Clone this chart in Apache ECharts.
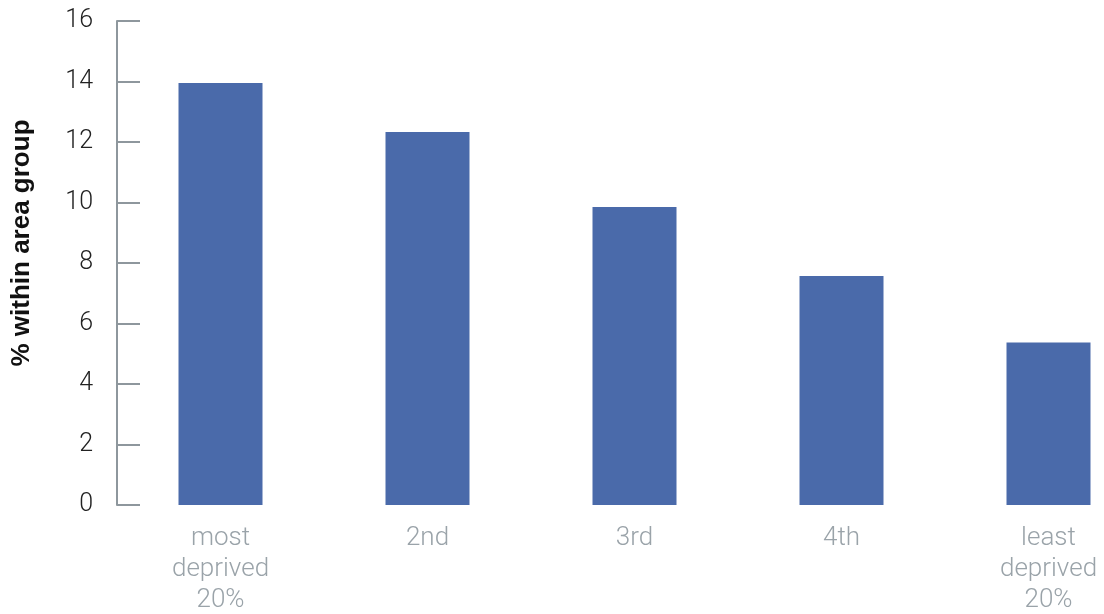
<!DOCTYPE html>
<html><head><meta charset="utf-8">
<script src="https://cdn.jsdelivr.net/npm/echarts@6/dist/echarts.min.js"></script>
<style>html,body{margin:0;padding:0;background:#fff}#c{width:1104px;height:614px}</style>
</head><body><div id="c"></div>
<script>
const categories = ['most\ndeprived\n20%', '2nd', '3rd', '4th', 'least\ndeprived\n20%'];
const values = [13.95, 12.33, 9.85, 7.57, 5.37];
const yTitle = '% within area group';

const chart = echarts.init(document.getElementById('c'));
chart.setOption({
  animation: false,
  grid: { left: 117, right: -48, top: 21, bottom: 109, outerBoundsMode: 'none', containLabel: false },
  graphic: [{
    type: 'text', x: 22, y: 243, rotation: Math.PI / 2,
    style: { text: yTitle, fontFamily: 'Liberation Sans', fontWeight: 'bold', fontSize: 26, fill: '#111',
             align: 'center', verticalAlign: 'middle' }
  }],
  xAxis: {
    type: 'category', data: categories,
    axisLine: { show: false }, axisTick: { show: false },
    axisLabel: { color: '#9aa3a9', fontFamily: 'Roboto', fontWeight: 300, fontSize: 26, lineHeight: 31, margin: 18 }
  },
  yAxis: {
    type: 'value', min: 0, max: 16, interval: 2,
    axisLine: { show: true, lineStyle: { color: '#8e979d', width: 2 } },
    axisTick: { show: true, inside: true, length: 23, lineStyle: { color: '#8e979d', width: 2 } },
    splitLine: { show: false },
    axisLabel: { color: '#222', fontFamily: 'Roboto', fontWeight: 300, fontSize: 25, margin: 24 }
  },
  series: [{
    type: 'bar', data: values, barWidth: 84,
    itemStyle: { color: '#4a6aaa' }
  }]
});
</script></body></html>
